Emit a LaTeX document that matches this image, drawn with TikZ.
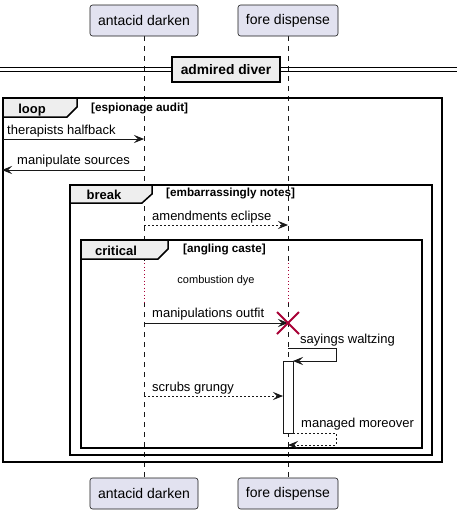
\documentclass[tikz,border=0pt]{standalone}
\usepackage{fontspec}
\setmainfont{Liberation Sans}
\usetikzlibrary{arrows.meta}
\definecolor{ln}{HTML}{181818}
\definecolor{pfill}{HTML}{E2E2F0}
\definecolor{tabfill}{HTML}{EEEEEE}
\definecolor{crim}{HTML}{A80036}
\tikzset{
  participant/.style={draw=ln, line width=0.6pt, fill=pfill, rounded corners=2.5pt, minimum width=108pt, minimum height=31pt, inner sep=0pt, font=\fontsize{14}{16}\selectfont},
  lifeline/.style={draw=ln, line width=0.6pt, dash pattern=on 5pt off 5pt},
  delayline/.style={draw=crim, line width=0.8pt, dash pattern=on 1pt off 2.5pt},
  frameline/.style={draw=black, line width=1.5pt},
  tabshape/.style={draw=black, line width=1.5pt, fill=tabfill},
  msg/.style={draw=ln, line width=0.8pt, -{Stealth[length=10pt,width=8pt,inset=4pt]}},
  dmsg/.style={msg, dash pattern=on 2pt off 2pt},
  msgtxt/.style={anchor=base west, inner sep=0pt, font=\fontsize{13}{15}\selectfont},
  kwtxt/.style={anchor=base, inner sep=0pt, font=\bfseries\fontsize{13}{15}\selectfont},
  condtxt/.style={anchor=base west, inner sep=0pt, font=\bfseries\fontsize{11.7}{13}\selectfont},
}
\begin{document}
\begin{tikzpicture}[x=1pt,y=-1pt]
\useasboundingbox (0,0) rectangle (457,514);
\fill[white] (0,0) rectangle (457,514);
% lifelines
\draw[lifeline] (144,36) -- (144,263);
\draw[lifeline] (144,302) -- (144,478);
\draw[lifeline] (288,36) -- (288,263);
\draw[lifeline] (288,302) -- (288,478);
\draw[delayline] (144,263) -- (144,302);
\draw[delayline] (288,263) -- (288,302);
% participants
\node[participant, minimum width=108pt] (ad) at (144,20.5) {antacid darken};
\node[participant, minimum width=100pt] (fd) at (288,20.5) {fore dispense};
\node[participant, minimum width=108pt] (ad2) at (144,493.5) {antacid darken};
\node[participant, minimum width=100pt] (fd2) at (288,493.5) {fore dispense};
% divider
\draw[line width=1pt] (0,67) -- (457,67);
\draw[line width=1pt] (0,71.5) -- (457,71.5);
\node[draw=black, line width=1.5pt, fill=tabfill, minimum width=108pt, minimum height=25pt, inner sep=0pt, font=\bfseries\fontsize{13.8}{15}\selectfont] (div) at (226,69.5) {admired diver};
% loop frame
\draw[frameline] (3,98) rectangle (442,462);
\draw[tabshape] (3,98) -- (77,98) -- (77,107) -- (67,117) -- (3,117) -- cycle;
\node[kwtxt] (loopk) at (32,113) {loop};
\node[condtxt] (loopc) at (91,111) {[espionage audit]};
% messages in loop
\coordinate (l1) at (3,139);
\coordinate (a1) at (144,139);
\draw[msg] (l1) -- (a1);
\node[msgtxt] (t1) at (7,134) {therapists halfback};
\coordinate (a2) at (144,170);
\coordinate (l2) at (2,170);
\draw[msg] (a2) -- (l2);
\node[msgtxt] (t2) at (17,164) {manipulate sources};
% break frame
\draw[frameline] (70,185) rectangle (432,455);
\draw[tabshape] (70,185) -- (152,185) -- (152,194) -- (142,203) -- (70,203) -- cycle;
\node[kwtxt] (brk) at (104,199) {break};
\node[condtxt] (brkc) at (166,196) {[embarrassingly notes]};
\coordinate (a3) at (144,225);
\coordinate (f3) at (288,225);
\draw[dmsg] (a3) -- (f3);
\node[msgtxt] (t3) at (152,220) {amendments eclipse};
% critical frame
\draw[frameline] (81,240) rectangle (422,448);
\draw[tabshape] (81,240) -- (168,240) -- (168,249) -- (158,259) -- (81,259) -- cycle;
\node[kwtxt] (crit) at (116,255) {critical};
\node[condtxt] (critc) at (183,252) {[angling caste]};
% delay
\node[inner sep=0pt, font=\fontsize{11}{13}\selectfont] (delay) at (216,281) {combustion dye};
% manipulations outfit with destroy
\coordinate (a4) at (144,323);
\coordinate (f4) at (288,323);
\draw[msg] (a4) -- (f4);
\node[msgtxt] (t4) at (152,317) {manipulations outfit};
\draw[crim, line width=2pt] (277,312) -- (299,334);
\draw[crim, line width=2pt] (277,334) -- (299,312);
% activation bar
\node[draw=ln, line width=0.8pt, fill=white, minimum width=10pt, minimum height=72pt, inner sep=0pt, anchor=north] (act) at (288,361) {};
% sayings waltzing self message
\coordinate (s1) at (288,348);
\coordinate (s2) at (336,348);
\coordinate (s3) at (336,361);
\coordinate (s4) at (293,361);
\draw[msg] (s1) -- (s2) -- (s3) -- (s4);
\node[msgtxt] (t5) at (300,343) {sayings waltzing};
% scrubs grungy
\coordinate (a6) at (144,396);
\coordinate (f6) at (283,396);
\draw[dmsg] (a6) -- (f6);
\node[msgtxt] (t6) at (152,391) {scrubs grungy};
% managed moreover
\coordinate (m1) at (293,433);
\coordinate (m2) at (336,433);
\coordinate (m3) at (336,445);
\coordinate (m4) at (288,445);
\draw[dmsg] (m1) -- (m2) -- (m3) -- (m4);
\node[msgtxt] (t7) at (301,427) {managed moreover};
\end{tikzpicture}
\end{document}
